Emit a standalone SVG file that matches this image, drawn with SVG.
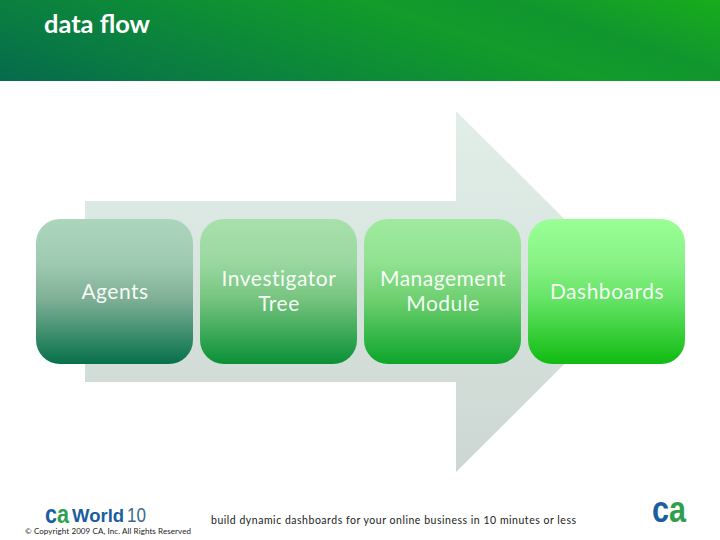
<svg xmlns="http://www.w3.org/2000/svg" width="720" height="540" viewBox="0 0 720 540">
<style>
text{font-family:"Lato","Open Sans",sans-serif}
.n{fill:#fff;fill-opacity:.95;font-size:21px;font-weight:400;text-anchor:middle;letter-spacing:.5px}
.logo{font-family:"Liberation Sans",sans-serif;font-weight:700}
.blue{fill:#1b5e9e}
</style>
<defs>
<linearGradient id="hd" gradientUnits="userSpaceOnUse" x1="0" y1="81" x2="122" y2="-282"><stop offset="0" stop-color="#066a4c"/><stop offset=".2" stop-color="#0a8040"/><stop offset=".5" stop-color="#129c2a"/><stop offset=".62" stop-color="#11962f"/><stop offset=".8" stop-color="#17ad1b"/></linearGradient>
<linearGradient id="ar" x1="0" y1="0" x2="0" y2="1"><stop offset="0" stop-color="#e2efe9"/><stop offset="1" stop-color="#ccd6d2"/></linearGradient>
<linearGradient id="g1" x1="0" y1="0" x2="0" y2="1"><stop offset="0" stop-color="#acd5bd"/><stop offset=".3" stop-color="#9fcab2"/><stop offset=".55" stop-color="#7fb096"/><stop offset="1" stop-color="#06704a"/></linearGradient>
<linearGradient id="g2" x1="0" y1="0" x2="0" y2="1"><stop offset="0" stop-color="#a8e0ac"/><stop offset=".3" stop-color="#9ad8a0"/><stop offset=".55" stop-color="#76c47f"/><stop offset="1" stop-color="#0a9036"/></linearGradient>
<linearGradient id="g3" x1="0" y1="0" x2="0" y2="1"><stop offset="0" stop-color="#a0ea9f"/><stop offset=".3" stop-color="#90e290"/><stop offset=".55" stop-color="#6fd070"/><stop offset="1" stop-color="#0ca52a"/></linearGradient>
<linearGradient id="g4" x1="0" y1="0" x2="0" y2="1"><stop offset="0" stop-color="#9aff96"/><stop offset=".3" stop-color="#88f286"/><stop offset=".55" stop-color="#66e466"/><stop offset="1" stop-color="#10bb12"/></linearGradient>
<linearGradient id="ca"><stop offset=".47" stop-color="#1b5e9e"/><stop offset=".47" stop-color="#2f9e4f"/></linearGradient>
</defs>
<rect width="720" height="540" fill="#fff"/>
<g id="header"><rect width="720" height="81" fill="url(#hd)"/>
<text x="44" y="33" font-size="24" font-weight="700" fill="#fff" textLength="106" lengthAdjust="spacingAndGlyphs">data flow</text></g>
<g id="connectors"><polygon points="85,201 456,201 456,111 637,291.500 456,472 456,382 85,382" fill="url(#ar)"/></g>
<g id="agents"><rect x="36" y="219" width="157" height="145" rx="24" fill="url(#g1)"/><text class="n" x="115" y="298.500">Agents</text></g>
<g id="investigator"><rect x="200" y="219" width="157" height="145" rx="24" fill="url(#g2)"/><text class="n" x="279" y="286">Investigator</text><text class="n" x="279" y="311">Tree</text></g>
<g id="management"><rect x="364" y="219" width="157" height="145" rx="24" fill="url(#g3)"/><text class="n" x="443" y="286">Management</text><text class="n" x="443" y="311">Module</text></g>
<g id="dashboards"><rect x="528" y="219" width="157" height="145" rx="24" fill="url(#g4)"/><text class="n" x="607" y="298.500">Dashboards</text></g>
<g id="footer">
<text x="45" y="522.500" font-size="26" class="logo" fill="url(#ca)" textLength="24" lengthAdjust="spacingAndGlyphs">ca</text>
<text x="72" y="522" font-size="18.500" class="logo blue">World</text>
<text x="127" y="522" font-size="20" fill="#3a6a8e" textLength="19" lengthAdjust="spacingAndGlyphs" style="font-family:'Liberation Sans',sans-serif">10</text>
<text x="25" y="534" font-size="8" fill="#222" textLength="166">© Copyright 2009 CA, Inc. All Rights Reserved</text>
<text x="211" y="524" font-size="10.500" fill="#222" textLength="365">build dynamic dashboards for your online business in 10 minutes or less</text>
<text x="652" y="522" font-size="37" class="logo" fill="url(#ca)" textLength="34" lengthAdjust="spacingAndGlyphs">ca</text>
</g>
</svg>
